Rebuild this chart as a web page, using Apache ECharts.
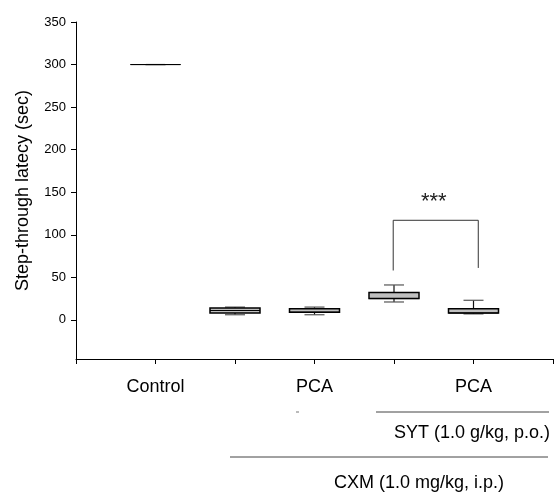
<!DOCTYPE html>
<html>
<head>
<meta charset="utf-8">
<script src="https://cdn.jsdelivr.net/npm/echarts@6/dist/echarts.min.js"></script>
<style>
  html, body { margin: 0; padding: 0; background: #fff; }
  #main { width: 556px; height: 492px; }
</style>
</head>
<body>
<div id="main"></div>
<script>
// group positions and box statistics
var groupX = [1, 2, 3, 4, 5];
var minVals = [300, 6, 6, 21, 7];
var q1Vals = [300, 8, 9, 25, 8];
var medianVals = [300, 11, 9, 25, 8];
var q3Vals = [300, 14, 13, 32, 13];
var maxVals = [300, 15, 15, 41, 23];

// x tick labels
var xLabels = {1: 'Control', 3: 'PCA', 5: 'PCA'};
var yTicks = [0, 50, 100, 150, 200, 250, 300, 350];

// significance bracket between group 4 and 5
var bracketX = [3.99, 3.99, 5.06, 5.06];
var bracketY = [58, 117, 117, 61];

var FONT = '"Liberation Sans", Arial, sans-serif';

function drawChart() {
    var boxData = groupX.map(function (x, i) {
        return [x, minVals[i], q1Vals[i], medianVals[i], q3Vals[i], maxVals[i]];
    });
    var bracketData = bracketX.map(function (x, i) {
        return [x, bracketY[i]];
    });

    var option = {
        animation: false,
        grid: { left: 76, right: 0, top: 22, bottom: 133 },
        xAxis: {
            type: 'value',
            min: 0,
            max: 6,
            interval: 1,
            splitLine: { show: false },
            axisLine: { onZero: false, lineStyle: { color: '#000', width: 1 } },
            axisTick: { length: 5, lineStyle: { color: '#000' } },
            axisLabel: {
                margin: 19,
                fontSize: 18,
                color: '#000',
                fontFamily: FONT,
                formatter: function (v) { return xLabels[v] || ''; }
            }
        },
        yAxis: {
            type: 'value',
            min: -46,
            max: 350,
            name: 'Step-through latecy (sec)',
            nameLocation: 'middle',
            nameGap: 44,
            nameTextStyle: { fontSize: 18, color: '#000', fontFamily: FONT },
            splitLine: { show: false },
            axisLine: { show: true, onZero: false, lineStyle: { color: '#000', width: 1 } },
            axisTick: { show: true, length: 5, customValues: yTicks, lineStyle: { color: '#000' } },
            axisLabel: { margin: 10, fontSize: 13, color: '#000', fontFamily: FONT, customValues: yTicks }
        },
        series: [
            {
                type: 'custom',
                data: boxData,
                renderItem: function (params, api) {
                    var x = api.value(0);
                    var pMin = api.coord([x, api.value(1)]);
                    var pQ1 = api.coord([x, api.value(2)]);
                    var pMed = api.coord([x, api.value(3)]);
                    var pQ3 = api.coord([x, api.value(4)]);
                    var pMax = api.coord([x, api.value(5)]);
                    var cx = pMin[0];
                    var half = 25, cap = 10;
                    var flat = pQ1[1] - pQ3[1] < 0.5;
                    var whisker = { stroke: '#111', lineWidth: 1.2 };
                    var capStyle = { stroke: '#555', lineWidth: 1.2 };
                    return {
                        type: 'group',
                        children: [
                            { type: 'line', shape: { x1: cx, y1: pMax[1], x2: cx, y2: pQ3[1] }, style: whisker },
                            { type: 'line', shape: { x1: cx, y1: pQ1[1], x2: cx, y2: pMin[1] }, style: whisker },
                            { type: 'line', shape: { x1: cx - cap, y1: pMax[1], x2: cx + cap, y2: pMax[1] }, style: capStyle },
                            { type: 'line', shape: { x1: cx - cap, y1: pMin[1], x2: cx + cap, y2: pMin[1] }, style: capStyle },
                            {
                                type: 'rect',
                                shape: { x: cx - half, y: pQ3[1], width: half * 2, height: pQ1[1] - pQ3[1] },
                                style: { fill: '#c0c0c0', stroke: '#000', lineWidth: flat ? 0.8 : 1.5 }
                            },
                            { type: 'line', shape: { x1: cx - half, y1: pMed[1], x2: cx + half, y2: pMed[1] }, style: { stroke: '#000', lineWidth: 1 } }
                        ]
                    };
                }
            },
            {
                type: 'line',
                data: bracketData,
                symbol: 'none',
                lineStyle: { color: '#333', width: 1 }
            }
        ]
    };

    var myChart = echarts.init(document.getElementById('main'));
    myChart.setOption(option, true);

    // annotations below the axis
    var top = myChart.convertToPixel({ gridIndex: 0 }, [4.5, 117]);
    myChart.setOption({
        graphic: [
            { type: 'text', x: top[0], y: top[1] - 18, style: { text: '***', font: '22px ' + FONT, fill: '#222', align: 'center', verticalAlign: 'middle' } },
            { type: 'line', shape: { x1: 296, y1: 412, x2: 299, y2: 412 }, style: { stroke: '#777', lineWidth: 1 } },
            { type: 'line', shape: { x1: 376, y1: 412, x2: 549, y2: 412 }, style: { stroke: '#444', lineWidth: 1 } },
            { type: 'text', x: 472, y: 433, style: { text: 'SYT (1.0 g/kg, p.o.)', font: '18px ' + FONT, fill: '#000', align: 'center', verticalAlign: 'middle' } },
            { type: 'line', shape: { x1: 230, y1: 457, x2: 548, y2: 457 }, style: { stroke: '#444', lineWidth: 1 } },
            { type: 'text', x: 419, y: 483, style: { text: 'CXM (1.0 mg/kg, i.p.)', font: '18px ' + FONT, fill: '#000', align: 'center', verticalAlign: 'middle' } }
        ]
    });
}

drawChart();
</script>
</body>
</html>
